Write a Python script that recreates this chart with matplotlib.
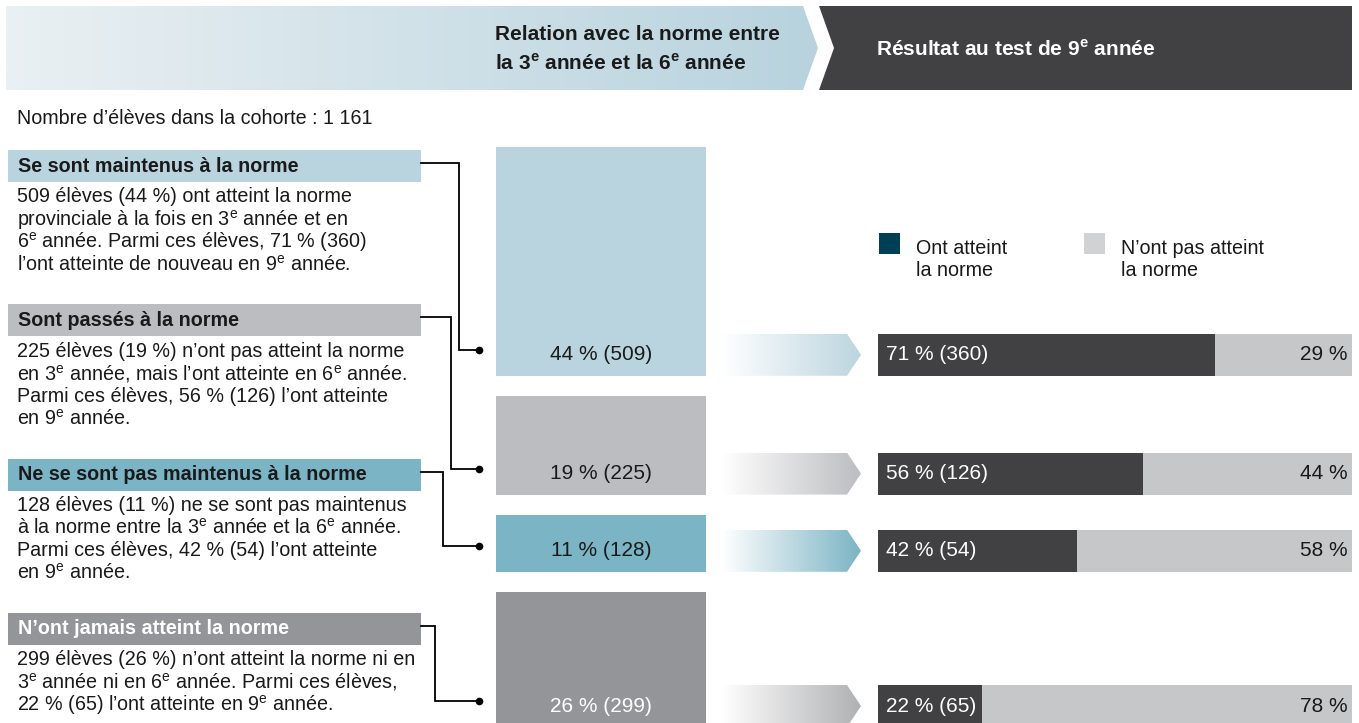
import numpy as np
import matplotlib
matplotlib.use("Agg")
import matplotlib.pyplot as plt
from matplotlib.patches import Polygon, Rectangle
from matplotlib.colors import to_rgb

plt.rcParams["font.family"] = ["Liberation Sans", "DejaVu Sans"]
plt.rcParams["mathtext.fontset"] = "custom"
plt.rcParams["mathtext.rm"] = "Liberation Sans"
plt.rcParams["mathtext.bf"] = "Liberation Sans:bold"

SUP = r"$^{\mathrm{e}}$"
SUPB = r"$^{\mathbf{e}}$"

# ---- data ----
TOTAL = 1161
GROUPS = ["Se sont maintenus à la norme", "Sont passés à la norme",
          "Ne se sont pas maintenus à la norme", "N’ont jamais atteint la norme"]
COUNTS = [509, 225, 128, 299]
SHARES = [44, 19, 11, 26]
MET_PCT = [71, 56, 42, 22]
MET_N = [360, 126, 54, 65]
NOT_MET_PCT = [29, 44, 58, 78]
DESCRIPTIONS = [
    ["509 élèves (44 %) ont atteint la norme",
     "provinciale à la fois en 3{e} année et en",
     "6{e} année. Parmi ces élèves, 71 % (360)",
     "l’ont atteinte de nouveau en 9{e} année."],
    ["225 élèves (19 %) n’ont pas atteint la norme",
     "en 3{e} année, mais l’ont atteinte en 6{e} année.",
     "Parmi ces élèves, 56 % (126) l’ont atteinte",
     "en 9{e} année."],
    ["128 élèves (11 %) ne se sont pas maintenus",
     "à la norme entre la 3{e} année et la 6{e} année.",
     "Parmi ces élèves, 42 % (54) l’ont atteinte",
     "en 9{e} année."],
    ["299 élèves (26 %) n’ont atteint la norme ni en",
     "3{e} année ni en 6{e} année. Parmi ces élèves,",
     "22 % (65) l’ont atteinte en 9{e} année."],
]
LEGEND = ["Ont atteint\nla norme", "N’ont pas atteint\nla norme"]

# ---- style ----
INK = "#1a1a1a"
DARK = "#414143"
LIGHT = "#c6c7c9"
GROUP_COLORS = ["#b9d4df", "#bcbdc1", "#7bb4c4", "#939598"]
ARROW_COLORS = ["#bcd5df", "#bcbdc0", "#7bb4c4", "#b0b1b3"]
HEAD_TXT = [INK, INK, INK, "white"]
MID_TXT = [INK, INK, INK, "white"]
LEG_COLORS = ["#003f54", "#d1d2d4"]

W, H = 1359, 723
fig = plt.figure(figsize=(W / 100, H / 100), dpi=100)
ax = fig.add_axes([0, 0, 1, 1])
ax.set_xlim(0, W)
ax.set_ylim(H, 0)
ax.axis("off")


def gradient_poly(verts, c0, c1):
    poly = Polygon(verts, closed=True, fc="none", ec="none")
    ax.add_patch(poly)
    xs = [v[0] for v in verts]
    ys = [v[1] for v in verts]
    a, b = np.array(to_rgb(c0)), np.array(to_rgb(c1))
    t = np.linspace(0, 1, 256)[None, :, None]
    img = a + (b - a) * t
    im = ax.imshow(img, extent=(min(xs), max(xs), max(ys), min(ys)),
                   aspect="auto", interpolation="bilinear", zorder=1)
    im.set_clip_path(poly)


# header band
gradient_poly([(6, 6), (803, 6), (818, 48), (803, 90), (6, 90)], "#eaf0f3", "#b8d3de")
ax.add_patch(Polygon([(819, 6), (1352, 6), (1352, 90), (819, 90), (834, 48)],
                     closed=True, fc=DARK, ec="none", zorder=2))
ax.text(495, 35, "Relation avec la norme entre", fontsize=15, weight="bold",
        color=INK, va="center", zorder=3)
ax.text(495, 63, "la 3" + SUPB + " année et la 6" + SUPB + " année", fontsize=15,
        weight="bold", color=INK, va="center", zorder=3)
ax.text(876, 49, "Résultat au test de 9" + SUPB + " année", fontsize=15,
        weight="bold", color="white", va="center", zorder=3)

ax.text(17, 118, f"Nombre d’élèves dans la cohorte : {TOTAL // 1000} {TOTAL % 1000}",
        fontsize=14.2, color=INK, va="center")

# layout
BAR_TOP = 147
PX_PER_PCT = 5.2
GAP = 20
ROW_H = 42
BLOCK_TOP = 150
BLOCK_STEP = 154.3
VX = [459, 451, 443, 435]

y = BAR_TOP
for i, g in enumerate(GROUPS):
    h = SHARES[i] * PX_PER_PCT
    bottom = y + h
    yc = bottom - ROW_H / 2

    # middle bar
    ax.add_patch(Rectangle((496, y), 210, h, fc=GROUP_COLORS[i], ec="none", zorder=2))
    ax.text(601, yc, f"{SHARES[i]} % ({COUNTS[i]})", fontsize=15, color=MID_TXT[i],
            ha="center", va="center", zorder=3)

    # gradient arrow
    top, bot = bottom - ROW_H, bottom
    gradient_poly([(722, top), (847, top), (861, yc), (847, bot), (722, bot)],
                  "#ffffff", ARROW_COLORS[i])

    # result bar
    x0, wbar = 878, 474
    wmet = wbar * MET_PCT[i] / 100
    ax.add_patch(Rectangle((x0, top), wmet, ROW_H, fc=DARK, ec="none", zorder=2))
    ax.add_patch(Rectangle((x0 + wmet, top), wbar - wmet, ROW_H, fc=LIGHT, ec="none", zorder=2))
    ax.text(x0 + 8, yc, f"{MET_PCT[i]} % ({MET_N[i]})", fontsize=15, color="white",
            va="center", zorder=3)
    ax.text(x0 + wbar - 4, yc, f"{NOT_MET_PCT[i]} %", fontsize=15, color=INK,
            ha="right", va="center", zorder=3)

    # left text block
    bt = BLOCK_TOP + i * BLOCK_STEP
    ax.add_patch(Rectangle((8, bt), 413, 32, fc=GROUP_COLORS[i], ec="none", zorder=2))
    ax.text(18, bt + 16, g, fontsize=14.2, weight="bold", color=HEAD_TXT[i],
            va="center", zorder=3)
    for j, line in enumerate(DESCRIPTIONS[i]):
        ax.text(17, bt + 47 + j * 22.5, line.replace("{e}", SUP), fontsize=14.2,
                color=INK, va="center", zorder=3)

    # connector
    ly = bt + 13
    ax.plot([421, VX[i], VX[i], 479], [ly, ly, yc - 5, yc - 5], color="black",
            lw=1.3, solid_joinstyle="miter", zorder=3)
    ax.plot([479], [yc - 5], "o", ms=4.5, color="black", zorder=4)

    y = bottom + GAP

# legend
for k, (lab, c) in enumerate(zip(LEGEND, LEG_COLORS)):
    lx = [879, 1084][k]
    ax.add_patch(Rectangle((lx, 233), 21, 21, fc=c, ec="none", zorder=2))
    for j, part in enumerate(lab.split("\n")):
        ax.text(lx + 37, 248 + j * 23, part, fontsize=14.2, color=INK,
                va="center", zorder=3)

ax.set_xlim(0, W)
ax.set_ylim(H, 0)
fig.savefig("out.png", dpi=100, facecolor="white")
